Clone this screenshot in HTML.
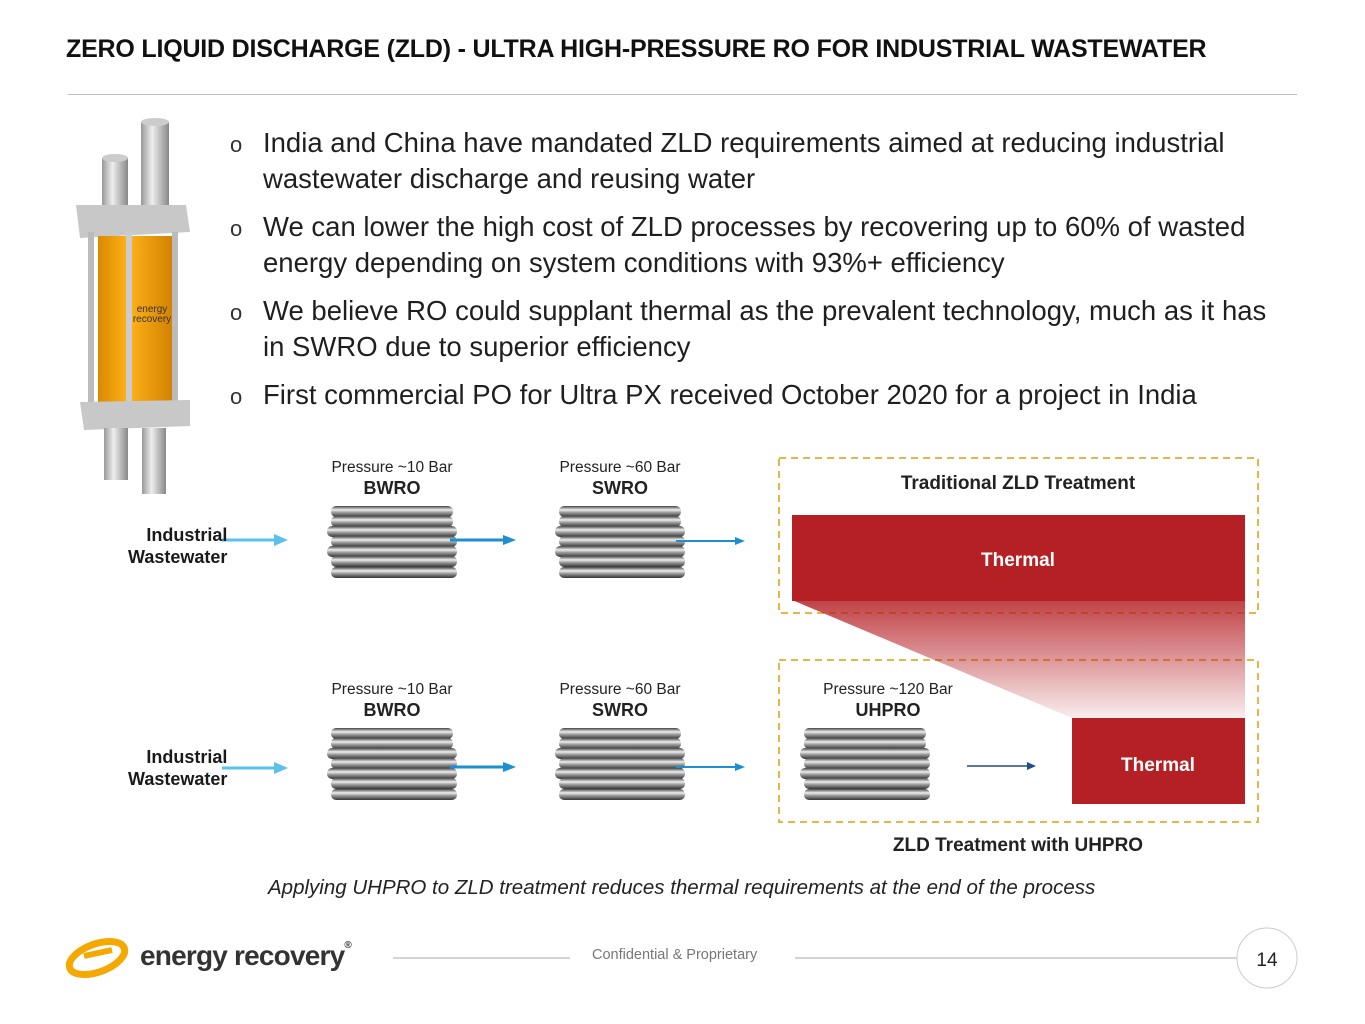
<!DOCTYPE html><html><head><meta charset="utf-8"><style>
body{margin:0;width:1365px;height:1024px;background:#fff;position:relative;overflow:hidden;font-family:"Liberation Sans",sans-serif;color:#1a1a1a}
.a{position:absolute;white-space:nowrap}
.t{left:66px;top:35px;font-size:25px;font-weight:bold;color:#111;letter-spacing:-0.2px}
.b{font-size:27.5px;left:263px;color:#1f1f1f}
.o{font-size:22px;left:230px;color:#333}
.s{font-size:15.5px;color:#222;text-align:center;width:160px}
.h{font-size:18px;font-weight:bold;color:#222;text-align:center;width:160px}
</style></head><body>
<div class="a t">ZERO LIQUID DISCHARGE (ZLD) - ULTRA HIGH-PRESSURE RO FOR INDUSTRIAL WASTEWATER</div>
<div class="a" style="left:68px;top:94px;width:1229px;height:1px;background:#bdbdbd"></div>

<div class="a o" style="top:132px">o</div><div class="a b" style="top:127px">India and China have mandated ZLD requirements aimed at reducing industrial</div>
<div class="a b" style="top:163px">wastewater discharge and reusing water</div>
<div class="a o" style="top:216px">o</div><div class="a b" style="top:211px">We can lower the high cost of ZLD processes by recovering up to 60% of wasted</div>
<div class="a b" style="top:247px">energy depending on system conditions with 93%+ efficiency</div>
<div class="a o" style="top:300px">o</div><div class="a b" style="top:295px">We believe RO could supplant thermal as the prevalent technology, much as it has</div>
<div class="a b" style="top:331px">in SWRO due to superior efficiency</div>
<div class="a o" style="top:384px">o</div><div class="a b" style="top:379px">First commercial PO for Ultra PX received October 2020 for a project in India</div>

<svg class="a" style="left:0;top:0" width="1365" height="1024">
<defs>
<linearGradient id="tube" x1="0" y1="0" x2="0" y2="1"><stop offset="0" stop-color="#444"/><stop offset=".35" stop-color="#eee"/><stop offset=".6" stop-color="#999"/><stop offset="1" stop-color="#333"/></linearGradient>
<linearGradient id="pipe" x1="0" y1="0" x2="1" y2="0"><stop offset="0" stop-color="#999"/><stop offset=".4" stop-color="#eee"/><stop offset="1" stop-color="#888"/></linearGradient>
<linearGradient id="org" x1="0" y1="0" x2="1" y2="0"><stop offset="0" stop-color="#d98a00"/><stop offset=".4" stop-color="#ffb21a"/><stop offset="1" stop-color="#d08000"/></linearGradient>
<linearGradient id="fade" x1="0" y1="0" x2="0" y2="1"><stop offset="0" stop-color="#b52025" stop-opacity=".85"/><stop offset="1" stop-color="#b52025" stop-opacity=".08"/></linearGradient>
<g id="stk">
<rect x="4" y="0" width="122" height="11" rx="5" fill="url(#tube)"/>
<rect x="4" y="10" width="122" height="11" rx="5" fill="url(#tube)"/>
<rect x="0" y="20" width="130" height="11" rx="5" fill="url(#tube)"/>
<rect x="4" y="30" width="126" height="11" rx="5" fill="url(#tube)"/>
<rect x="0" y="40" width="130" height="11" rx="5" fill="url(#tube)"/>
<rect x="4" y="50" width="126" height="11" rx="5" fill="url(#tube)"/>
<rect x="4" y="61" width="126" height="11" rx="5" fill="url(#tube)"/>
</g>
</defs>
<rect x="141" y="122" width="28" height="100" fill="url(#pipe)"/><ellipse cx="155" cy="122" rx="14" ry="4" fill="#ccc"/>
<rect x="102" y="158" width="26" height="60" fill="url(#pipe)"/><ellipse cx="115" cy="158" rx="13" ry="4" fill="#ccc"/>
<polygon points="76,205 186,205 190,232 80,238" fill="#c8c8c8"/>
<rect x="98" y="236" width="76" height="168" fill="url(#org)"/>
<rect x="88" y="232" width="6" height="178" fill="#bbb"/><rect x="126" y="232" width="6" height="178" fill="#ccc"/><rect x="172" y="232" width="6" height="178" fill="#bbb"/>
<polygon points="80,402 190,400 190,426 84,430" fill="#c8c8c8"/>
<rect x="104" y="428" width="24" height="52" fill="url(#pipe)"/><rect x="142" y="428" width="24" height="66" fill="url(#pipe)"/>
<text x="152" y="312" font-size="10" text-anchor="middle" fill="#333">energy</text><text x="152" y="322" font-size="10" text-anchor="middle" fill="#333">recovery</text>
<rect x="779" y="458" width="479" height="155" fill="none" stroke="#e8b547" stroke-width="2" stroke-dasharray="7,5"/>
<rect x="779" y="660" width="479" height="162" fill="none" stroke="#e8b547" stroke-width="2" stroke-dasharray="7,5"/>
<polygon points="792,600 1245,600 1245,718 1072,718" fill="url(#fade)"/>
<rect x="792" y="515" width="453" height="86" fill="#b52025"/>
<rect x="1072" y="718" width="173" height="86" fill="#b52025"/>
<text x="1018" y="566" font-size="19" font-weight="bold" fill="#fff" text-anchor="middle">Thermal</text>
<text x="1158" y="771" font-size="19" font-weight="bold" fill="#fff" text-anchor="middle">Thermal</text>
<text x="1018" y="489" font-size="19" font-weight="bold" fill="#222" text-anchor="middle">Traditional ZLD Treatment</text>
<text x="1018" y="851" font-size="19" font-weight="bold" fill="#222" text-anchor="middle">ZLD Treatment with UHPRO</text>
<use href="#stk" x="327" y="506"/><use href="#stk" x="555" y="506"/>
<use href="#stk" x="327" y="728"/><use href="#stk" x="555" y="728"/><use href="#stk" x="800" y="728"/>
<g stroke="#5bc0eb" stroke-width="3" fill="#5bc0eb">
<line x1="222" y1="540" x2="276" y2="540"/><polygon points="288,540 274,534 274,546" stroke="none"/>
<line x1="222" y1="768" x2="276" y2="768"/><polygon points="288,768 274,762 274,774" stroke="none"/></g>
<g stroke="#1d8fd0" stroke-width="3" fill="#1d8fd0">
<line x1="450" y1="540" x2="505" y2="540"/><polygon points="516,540 503,535 503,545" stroke="none"/>
<line x1="450" y1="767" x2="505" y2="767"/><polygon points="516,767 503,762 503,772" stroke="none"/></g>
<g stroke="#1d8fd0" stroke-width="2" fill="#1d8fd0">
<line x1="676" y1="541" x2="736" y2="541"/><polygon points="745,541 735,537 735,545" stroke="none"/>
<line x1="676" y1="767" x2="736" y2="767"/><polygon points="745,767 735,763 735,771" stroke="none"/></g>
<g stroke="#1f4e8c" stroke-width="1.5" fill="#1f4e8c"><line x1="967" y1="766" x2="1028" y2="766"/><polygon points="1036,766 1027,762 1027,770" stroke="none"/></g>
<line x1="393" y1="958" x2="570" y2="958" stroke="#aaa"/><line x1="795" y1="958" x2="1237" y2="958" stroke="#aaa"/>
<circle cx="1267" cy="958" r="30" fill="#fff" stroke="#ccc"/>
<text x="1267" y="966" font-size="19" text-anchor="middle" fill="#222">14</text>
<ellipse cx="97" cy="958" rx="29" ry="14" fill="none" stroke="#f5a800" stroke-width="7" transform="rotate(-20 97 958)"/>
<path d="M84 956 L112 950" stroke="#f5a800" stroke-width="6"/>
</svg>
<div class="a s" style="left:312px;top:459px">Pressure ~10 Bar</div><div class="a h" style="left:312px;top:478px">BWRO</div>
<div class="a s" style="left:540px;top:459px">Pressure ~60 Bar</div><div class="a h" style="left:540px;top:478px">SWRO</div>
<div class="a s" style="left:312px;top:681px">Pressure ~10 Bar</div><div class="a h" style="left:312px;top:700px">BWRO</div>
<div class="a s" style="left:540px;top:681px">Pressure ~60 Bar</div><div class="a h" style="left:540px;top:700px">SWRO</div>
<div class="a s" style="left:808px;top:681px">Pressure ~120 Bar</div><div class="a h" style="left:808px;top:700px">UHPRO</div>
<div class="a" style="left:128px;top:524px;font-size:18px;font-weight:bold;line-height:22px;text-align:right">Industrial<br>Wastewater</div>
<div class="a" style="left:128px;top:746px;font-size:18px;font-weight:bold;line-height:22px;text-align:right">Industrial<br>Wastewater</div>
<div class="a" style="left:268px;top:876px;font-size:20.5px;font-style:italic;color:#222">Applying UHPRO to ZLD treatment reduces thermal requirements at the end of the process</div>
<div class="a" style="left:140px;top:940px;font-size:28px;font-weight:bold;color:#333;letter-spacing:-0.8px">energy recovery<span style="font-size:10px;vertical-align:top">®</span></div>
<div class="a" style="left:592px;top:947px;font-size:14.5px;color:#777">Confidential &amp; Proprietary</div>
</body></html>
